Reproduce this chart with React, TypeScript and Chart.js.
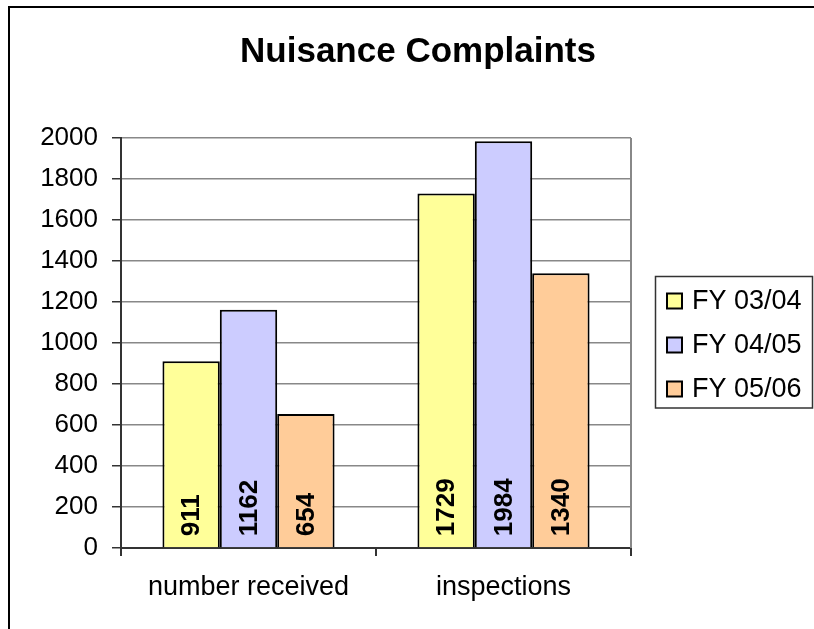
import React, { useEffect, useRef } from 'react';
import { Chart, registerables } from 'chart.js';

Chart.register(...registerables);

const chartTitle = 'Nuisance Complaints';
const categories = ['number received', 'inspections'];
const seriesNames = ['FY 03/04', 'FY 04/05', 'FY 05/06'];
const fy0304 = [911, 1729];
const fy0405 = [1162, 1984];
const fy0506 = [654, 1340];
const seriesColors = ['#FFFF99', '#CCCCFF', '#FFCC99'];
const yMin = 0;
const yMax = 2000;
const yStep = 200;

const FONT = "'Liberation Sans', Arial, Helvetica, sans-serif";

const decorPlugin = {
  id: 'decor',
  afterDatasetsDraw(chart: any) {
    const ctx = chart.ctx;
    ctx.save();
    ctx.fillStyle = '#000';
    ctx.font = `bold 26px ${FONT}`;
    ctx.textAlign = 'left';
    ctx.textBaseline = 'middle';
    chart.data.datasets.forEach((ds: any, di: number) => {
      const meta = chart.getDatasetMeta(di);
      meta.data.forEach((el: any, i: number) => {
        const { x, base } = el.getProps(['x', 'base'], true);
        ctx.save();
        ctx.translate(x, base - 11);
        ctx.rotate(-Math.PI / 2);
        ctx.fillText(String(ds.data[i]), 0, 1);
        ctx.restore();
      });
    });
    ctx.restore();
  },
  afterDraw(chart: any) {
    const ctx = chart.ctx;
    const ca = chart.chartArea;
    ctx.save();
    // plot area right border
    ctx.strokeStyle = '#888';
    ctx.lineWidth = 2;
    ctx.beginPath();
    ctx.moveTo(ca.right, ca.top);
    ctx.lineTo(ca.right, ca.bottom);
    ctx.stroke();

    // outer chart border (top and left)
    ctx.strokeStyle = '#000';
    ctx.lineWidth = 2;
    ctx.beginPath();
    ctx.moveTo(9, 640);
    ctx.lineTo(9, 7);
    ctx.lineTo(820, 7);
    ctx.stroke();

    // title
    ctx.fillStyle = '#000';
    ctx.font = `bold 35px ${FONT}`;
    ctx.textAlign = 'center';
    ctx.textBaseline = 'alphabetic';
    ctx.fillText(chartTitle, 418, 62);

    // legend
    const lx = 655.5;
    const ly = 276.5;
    const lw = 157;
    const lh = 131.5;
    ctx.strokeStyle = '#333';
    ctx.lineWidth = 1.5;
    ctx.strokeRect(lx, ly, lw, lh);
    const rowY = [301, 345, 389];
    ctx.font = `27px ${FONT}`;
    ctx.textAlign = 'left';
    ctx.textBaseline = 'middle';
    chart.data.datasets.forEach((ds: any, i: number) => {
      const cy = rowY[i];
      ctx.fillStyle = ds.backgroundColor;
      ctx.fillRect(667, cy - 7.5, 15, 15);
      ctx.strokeStyle = '#000';
      ctx.lineWidth = 2;
      ctx.strokeRect(667, cy - 7.5, 15, 15);
      ctx.fillStyle = '#000';
      ctx.fillText(ds.label, 692, cy + 1);
    });
    ctx.restore();
  },
};

export default function App() {
  const canvasRef = useRef<HTMLCanvasElement | null>(null);

  useEffect(() => {
    const canvas = canvasRef.current;
    if (!canvas) return;
    const seriesData = [fy0304, fy0405, fy0506];
    const chart = new Chart(canvas, {
      type: 'bar',
      data: {
        labels: categories,
        datasets: seriesNames.map((name, i) => ({
          label: name,
          data: seriesData[i],
          backgroundColor: seriesColors[i],
          borderColor: '#000',
          borderWidth: 2,
          categoryPercentage: 0.675,
          barPercentage: 1.0,
        })),
      },
      options: {
        responsive: false,
        animation: false,
        layout: { padding: { left: 21, right: 183, top: 138, bottom: 21 } },
        plugins: {
          legend: { display: false },
          title: { display: false },
          tooltip: { enabled: false },
        },
        scales: {
          x: {
            afterFit: (s: any) => {
              s.height = 60;
            },
            grid: {
              drawOnChartArea: false,
              drawTicks: true,
              tickLength: 8,
              tickColor: '#333',
              lineWidth: 2,
              offset: true,
            },
            border: { color: '#333', width: 2 },
            ticks: {
              color: '#000',
              font: { family: FONT, size: 27 },
              padding: 15,
            },
          },
          y: {
            min: yMin,
            max: yMax,
            afterFit: (s: any) => {
              s.width = 100;
            },
            grid: {
              color: '#888',
              lineWidth: 1.5,
              drawTicks: true,
              tickLength: 9,
              tickColor: '#333',
            },
            border: { color: '#333', width: 2 },
            ticks: {
              stepSize: yStep,
              color: '#000',
              font: { family: FONT, size: 26 },
              padding: 14,
              callback: (v: any) => String(v),
            },
          },
        },
      },
      plugins: [decorPlugin],
    });
    return () => chart.destroy();
  }, []);

  return (
    <div style={{ position: 'absolute', left: 0, top: 0, width: 814, height: 629, background: '#fff' }}>
      <canvas ref={canvasRef} width={814} height={629} style={{ width: 814, height: 629, display: 'block' }} />
    </div>
  );
}
